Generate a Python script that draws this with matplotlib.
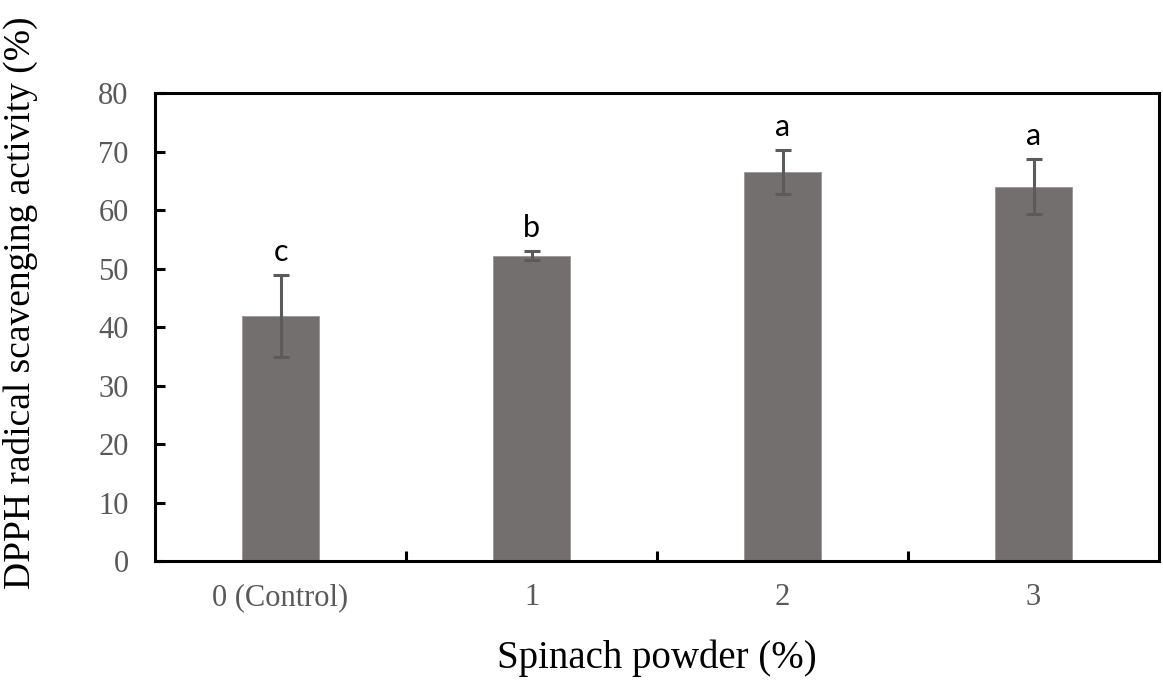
import numpy as np
import matplotlib
matplotlib.use("Agg")
import matplotlib.pyplot as plt

# data
categories = ["0 (Control)", "1", "2", "3"]
means = [41.9, 52.2, 66.5, 64.0]
errors = [7.0, 0.8, 3.7, 4.7]
letters = ["c", "b", "a", "a"]

bar_color = "#736f6e"
err_color = "#5b5b5b"
tick_gray = "#595959"

fig = plt.figure(figsize=(11.63, 6.83), dpi=100)
ax = fig.add_axes([0.1333, 0.1786, 0.8633, 0.6852])

x = np.arange(len(categories))
ax.bar(x, means, width=0.31, color=bar_color, edgecolor="#9a9696", linewidth=0.6, zorder=2)
ax.errorbar(x, means, yerr=errors, fmt="none", ecolor=err_color,
            elinewidth=2.2, capsize=5.8, capthick=2.2, zorder=3)

# significance letters above the error bars
for xi, m, e, lab in zip(x, means, errors, letters):
    ax.annotate(lab, (xi, m + e), xytext=(0, 10), textcoords="offset points",
                ha="center", va="baseline", fontsize=22, family="Lato", color="black")

ax.set_xlim(-0.5, len(categories) - 0.5)
ax.set_ylim(0, 80)
ax.set_yticks(np.arange(0, 81, 10))

# labels at category centres, tick marks between categories
ax.set_xticks(x)
ax.set_xticklabels(categories)
ax.set_xticks(np.arange(0.5, len(categories) - 0.5, 1), minor=True)
ax.tick_params(axis="x", which="major", length=0, pad=16)
ax.tick_params(axis="x", which="minor", direction="in", length=7, width=2.2)
ax.tick_params(axis="y", direction="in", length=7, width=2.2, pad=19)

for lab in ax.get_xticklabels() + ax.get_yticklabels():
    lab.set_family("Liberation Serif")
    lab.set_fontsize(22)
    lab.set_color(tick_gray)

for sp in ax.spines.values():
    sp.set_linewidth(2.2)
    sp.set_color("black")

ax.set_xlabel("Spinach powder (%)", family="Liberation Serif", fontsize=28)
ax.set_ylabel("DPPH radical scavenging activity (%)", family="Liberation Serif",
              fontsize=27)
ax.xaxis.set_label_coords(0.5, -0.168)
ax.yaxis.set_label_coords(-0.117, 0.552)

fig.savefig("out.png", dpi=100)
